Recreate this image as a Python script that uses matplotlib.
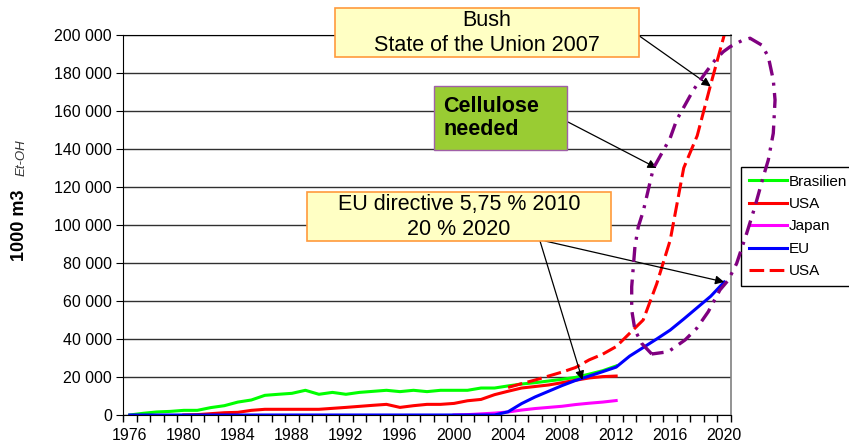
import matplotlib
matplotlib.use("Agg")
import matplotlib.pyplot as plt
from matplotlib.patches import Rectangle
from matplotlib.ticker import FuncFormatter, MultipleLocator

plt.rcParams['font.family'] = ['Liberation Sans', 'DejaVu Sans']

# --- data (1000 m3 ethanol) ---
years_bra = list(range(1976, 2013))
brasilien = [0, 900, 1600, 1900, 2450, 2450, 3900, 4900, 6800, 7900,
             10350, 10900, 11400, 13000, 10900, 11900, 10900, 11900, 12450, 13000,
             12300, 13000, 12300, 13000, 13000, 13000, 14200, 14200, 15300, 16300,
             17000, 17900, 18800, 19800, 21500, 23300, 25800]

years_usa = list(range(1980, 2013))
usa = [0, 200, 700, 1200, 1400, 2450, 3000, 3000, 3000, 3000,
       3000, 3500, 4000, 4550, 5100, 5600, 4000, 4900, 5600, 5600,
       6100, 7500, 8200, 10700, 12500, 14200, 15000, 15800, 17000, 18300,
       19500, 20200, 20500]

years_jap = list(range(2000, 2013))
japan = [0, 200, 600, 1000, 1600, 2600, 3400, 4000, 4600, 5500, 6200, 6800, 7600]

years_eu = list(range(1976, 2021))
eu = [0] * 28 + [1700, 6000, 9500, 12500, 15500, 18200, 20500, 22800, 25200,
                 31000, 35500, 40000, 44700, 50500, 56500, 62500, 70000]

years_usa2 = list(range(2004, 2021))
usa_target = [14500, 16500, 18400, 20500, 22600, 25000, 29000, 32000, 36000,
              43000, 50000, 69000, 92000, 130000, 147000, 174000, 200000]

# hand-drawn loop around the targets (year, value)
loop_years = [2014.63, 2013.89, 2013.39, 2013.15, 2013.15, 2013.27, 2013.39, 2013.64,
              2014.01, 2014.75, 2015.37, 2015.99, 2016.48, 2017.1, 2017.71, 2018.58,
              2019.32, 2019.93, 2020.43, 2021.29, 2021.91, 2022.77, 2023.26, 2023.63,
              2023.76, 2023.63, 2023.26, 2022.89, 2022.27, 2021.66, 2020.92, 2020.3,
              2019.68, 2018.82, 2017.96, 2017.1, 2015.86, 2014.63]
loop_vals = [32100, 37700, 44700, 55300, 67500, 78000, 88600, 99100,
             107400, 129800, 137700, 145600, 155300, 163200, 171000, 179800,
             186800, 191200, 193800, 197000, 198300, 194700, 188600, 176300,
             165800, 148300, 134200, 125400, 109600, 95600, 79800, 71000,
             65800, 54400, 45600, 39500, 33300, 32100]

W, H = 849, 448


def fx(x):
    return x / W


def fy(y):
    return 1 - y / H


fig = plt.figure(figsize=(8.49, 4.48), dpi=100)
ax = fig.add_axes([fx(123), fy(415), fx(731) - fx(123), fy(35) - fy(415)])

ax.plot(years_bra, brasilien, color='#00ff00', lw=2.2, label='Brasilien')
ax.plot(years_usa, usa, color='#ff0000', lw=2.2, label='USA')
ax.plot(years_jap, japan, color='#ff00ff', lw=2.2, label='Japan')
ax.plot(years_eu, eu, color='#0000ff', lw=2.2, label='EU')
ax.plot(years_usa2, usa_target, color='#ff0000', lw=2.2, dashes=(4.8, 1.8), label='USA')

ax.plot(loop_years, loop_vals, color='#800080', lw=2.4, dashes=(4.5, 2.2, 0.9, 2.2),
        clip_on=False, zorder=10)

ax.set_xlim(1975.5, 2020.5)
ax.set_ylim(0, 200000)
ax.yaxis.set_major_locator(MultipleLocator(20000))
ax.yaxis.set_major_formatter(FuncFormatter(lambda v, p: f"{int(v):,}".replace(",", " ")))
ax.set_xticks(range(1976, 2021, 4))
ax.set_xticks([y + 0.5 for y in range(1975, 2021)], minor=True)
ax.tick_params(axis='x', which='major', length=0, labelsize=11.5, pad=9)
ax.tick_params(axis='x', which='minor', length=5, direction='out', width=1)
ax.tick_params(axis='y', length=5, direction='out', labelsize=11.5, pad=3)
ax.grid(axis='y', color='#303030', lw=1)
ax.set_axisbelow(True)
for s in ['left', 'bottom', 'top']:
    ax.spines[s].set_color('black')
ax.spines['right'].set_color('#808080')
ax.spines['right'].set_linewidth(1.2)

leg = ax.legend(loc='upper left', bbox_to_anchor=(fx(741), fy(167)),
                bbox_transform=fig.transFigure, fontsize=11, frameon=True,
                fancybox=False, edgecolor='black', framealpha=1,
                handlelength=2.5, handletextpad=0.15, labelspacing=0.55,
                borderpad=0.5, borderaxespad=0)
leg.get_frame().set_linewidth(1.0)
leg.set_zorder(5)

# y label
fig.text(fx(19), fy(225), '1000 m3', rotation=90, ha='center', va='center',
         fontsize=13, fontweight='bold')
fig.text(fx(22), fy(158), 'Et-OH', rotation=90, ha='center', va='center',
         fontsize=9.5, fontstyle='italic', color='#333333')

# annotation boxes
yellow, orange = '#ffffc4', '#ff9a3c'
fig.patches.append(Rectangle((fx(335), fy(57)), fx(639) - fx(335), fy(8) - fy(57),
                             transform=fig.transFigure, facecolor=yellow,
                             edgecolor=orange, lw=1.2, zorder=3))
fig.text(fx(487), fy(33), 'Bush\nState of the Union 2007', ha='center', va='center',
         fontsize=15.5, linespacing=1.2, zorder=4)

fig.patches.append(Rectangle((fx(434), fy(150)), fx(567) - fx(434), fy(86) - fy(150),
                             transform=fig.transFigure, facecolor='#99cc33',
                             edgecolor='#a060a8', lw=1.0, zorder=3))
fig.text(fx(443), fy(118), 'Cellulose\nneeded', ha='left', va='center',
         fontsize=15.5, fontweight='bold', linespacing=1.15, zorder=4)

fig.patches.append(Rectangle((fx(307), fy(241)), fx(611) - fx(307), fy(192) - fy(241),
                             transform=fig.transFigure, facecolor=yellow,
                             edgecolor=orange, lw=1.2, zorder=3))
fig.text(fx(459), fy(217), 'EU directive 5,75 % 2010\n20 % 2020', ha='center',
         va='center', fontsize=15.5, linespacing=1.2, zorder=4)

arrow = dict(arrowstyle='-|>', color='black', lw=0.9, mutation_scale=13,
             shrinkA=0, shrinkB=0)
ax.annotate('', xy=(2019.0, 173000), xytext=(fx(638), fy(35)),
            textcoords='figure fraction', arrowprops=arrow, annotation_clip=False)
ax.annotate('', xy=(2015.0, 130000), xytext=(fx(568), fy(122)),
            textcoords='figure fraction', arrowprops=arrow, annotation_clip=False)
ax.annotate('', xy=(2009.5, 18500), xytext=(fx(540), fy(241)),
            textcoords='figure fraction', arrowprops=arrow, annotation_clip=False)
ax.annotate('', xy=(2020.0, 70000), xytext=(fx(545), fy(241)),
            textcoords='figure fraction', arrowprops=arrow, annotation_clip=False)

fig.savefig('out.png', dpi=100)
